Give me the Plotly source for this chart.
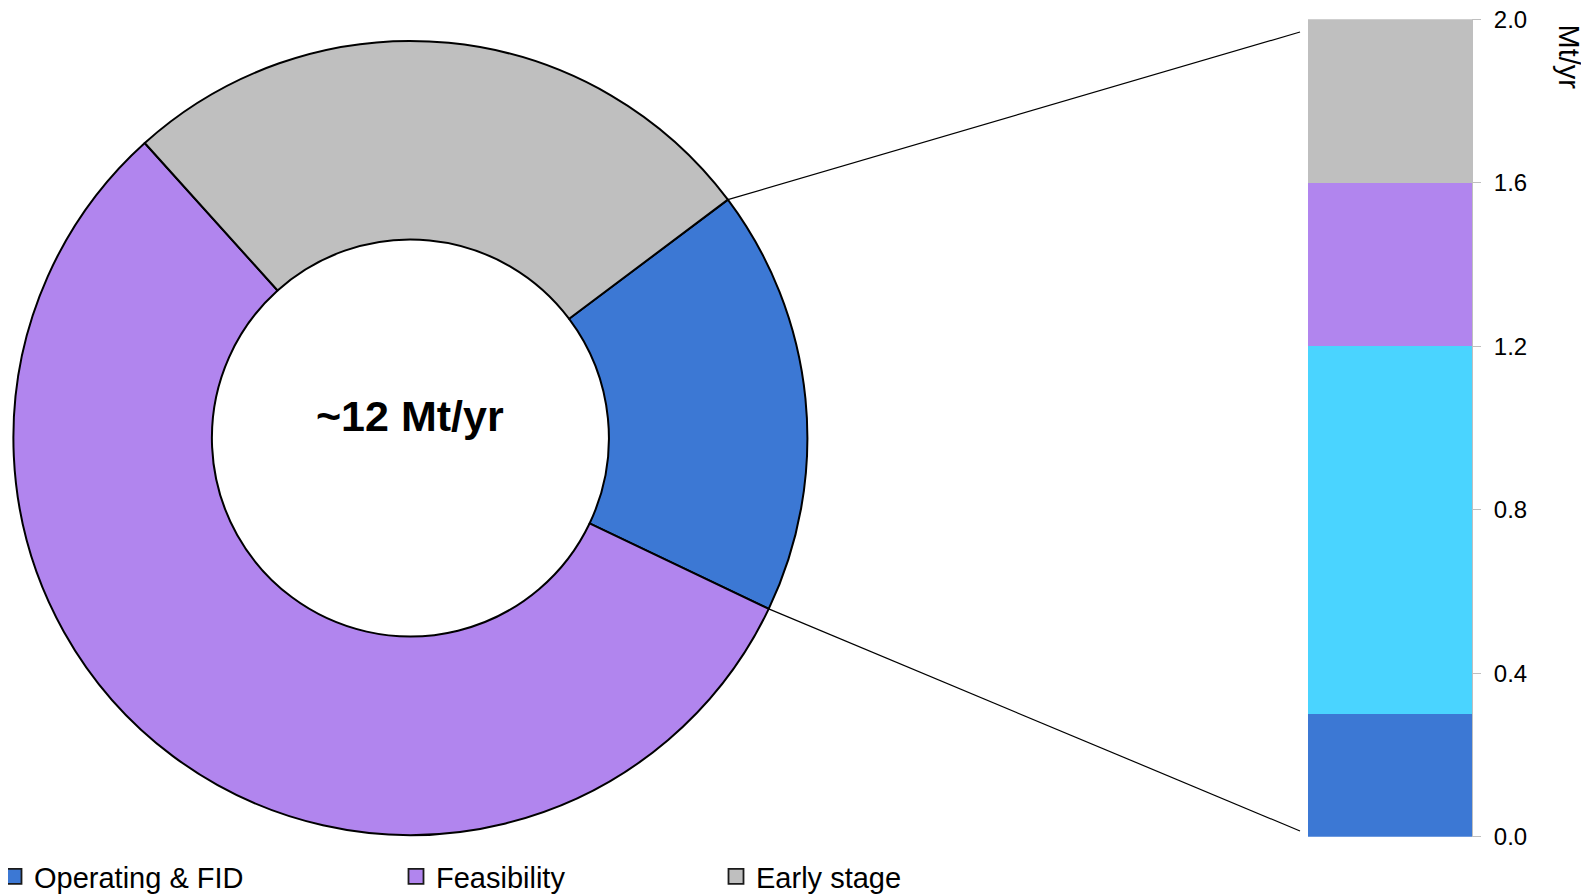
import math
import plotly.graph_objects as go

# figure size (page has an 8px body margin, so the figure is drawn 8px in from the corner)
OFF = 8
W, H = 1589 - OFF, 894 - OFF

# ---- data ----
pie_labels = ["Operating & FID", "Feasibility", "Early stage"]
pie_values = [2.08, 6.75, 3.17]
pie_colors = ["#3C78D4", "#B185EE", "#BFBFBF"]
center_label = "~12 Mt/yr"

bar_segments = ["Operating & FID", "Other", "Feasibility", "Early stage"]
bar_values = [0.3, 0.9, 0.4, 0.4]
bar_colors = ["#3C78D4", "#4AD4FF", "#B185EE", "#BFBFBF"]

y_ticks = [0.0, 0.4, 0.8, 1.2, 1.6, 2.0]
y_tick_text = [f"{v:.1f}" for v in y_ticks]
y_title = "Mt/yr"

FONT = "Liberation Sans, Arial, sans-serif"

# ---- layout geometry (screen pixels) ----
pie_cx, pie_cy, pie_r = 410.4, 438.0, 397.0
rotation = 53.1
bar_x0, bar_x1 = 1308.0, 1472.0
bar_ytop, bar_ybot = 19.2, 836.7

def px_x(x):
    return (x - OFF) / W

def px_y(y):
    return 1 - (y - OFF) / H

fig = go.Figure()

fig.add_trace(go.Pie(
    labels=pie_labels, values=pie_values, sort=False, direction="clockwise",
    rotation=rotation, hole=0.5, textinfo="none", showlegend=False,
    marker=dict(colors=pie_colors, line=dict(color="#000000", width=2)),
    domain=dict(x=[px_x(pie_cx - pie_r), px_x(pie_cx + pie_r)],
                y=[px_y(pie_cy + pie_r), px_y(pie_cy - pie_r)]),
))

for name, val, col in zip(bar_segments, bar_values, bar_colors):
    fig.add_trace(go.Bar(
        x=[0], y=[val], name=name, marker=dict(color=col, line=dict(width=0)),
        showlegend=False, width=1,
    ))

# legend entries (one legend per item so they can be positioned like the original)
legend_x_px = [-6, 396, 716]
legend_keys = ["legend", "legend2", "legend3"]
for name, col, key in zip(pie_labels, pie_colors, legend_keys):
    fig.add_trace(go.Scatter(
        x=[None], y=[None], mode="markers", name=name, legend=key,
        marker=dict(symbol="square", size=15, color=col,
                    line=dict(color="#1a1a1a", width=1.8)),
        showlegend=True, hoverinfo="skip",
    ))

# connector lines from the blue slice edges to the bar
total = sum(pie_values)
th0 = math.radians(rotation)
th1 = math.radians(rotation + 360 * pie_values[0] / total)
pts = []
for th in (th0, th1):
    pts.append((pie_cx + pie_r * math.sin(th), pie_cy - pie_r * math.cos(th)))
bar_ends = [(bar_x0 - 8, 32.0), (bar_x0 - 8, 831.0)]
shapes = []
for (x0, y0), (x1, y1) in zip(pts, bar_ends):
    shapes.append(dict(type="line", xref="paper", yref="paper",
                       x0=px_x(x0), y0=px_y(y0), x1=px_x(x1), y1=px_y(y1),
                       line=dict(color="#000000", width=1.2)))

legends = {}
for key, xp in zip(legend_keys, legend_x_px):
    legends[key] = dict(x=px_x(xp), y=px_y(876.5), xanchor="left", yanchor="middle",
                        orientation="h", bgcolor="rgba(0,0,0,0)",
                        font=dict(family=FONT, size=29, color="#000000"))

fig.update_layout(
    width=W, height=H, margin=dict(l=0, r=0, t=0, b=0, autoexpand=False),
    paper_bgcolor="white", plot_bgcolor="white",
    font=dict(family=FONT, color="#000000"),
    barmode="stack", bargap=0,
    xaxis=dict(domain=[px_x(bar_x0), px_x(bar_x1)], range=[-0.5, 0.5],
               visible=False, fixedrange=True),
    yaxis=dict(domain=[px_y(bar_ybot), px_y(bar_ytop)], range=[0, 2.0],
               side="right", anchor="x", showline=True, linecolor="#BFBFBF",
               linewidth=1, ticks="outside", ticklen=8, tickcolor="#BFBFBF",
               tickvals=y_ticks, ticktext=y_tick_text,
               tickfont=dict(family=FONT, size=24, color="#000000"),
               showgrid=False, zeroline=False, ticklabelstandoff=8,
               ticklabeloverflow="allow", automargin=False),
    shapes=shapes,
    annotations=[
        dict(text=f"<b>{center_label}</b>", x=px_x(pie_cx), y=px_y(416),
             xref="paper", yref="paper", showarrow=False, xanchor="center",
             yanchor="middle", font=dict(family=FONT, size=43, color="#000000")),
        dict(text=y_title, x=px_x(1568), y=px_y(22), xref="paper", yref="paper",
             showarrow=False, textangle=90, xanchor="center", yanchor="top",
             font=dict(family=FONT, size=29, color="#000000")),
    ],
    **legends,
)

fig.write_html("out.html")
